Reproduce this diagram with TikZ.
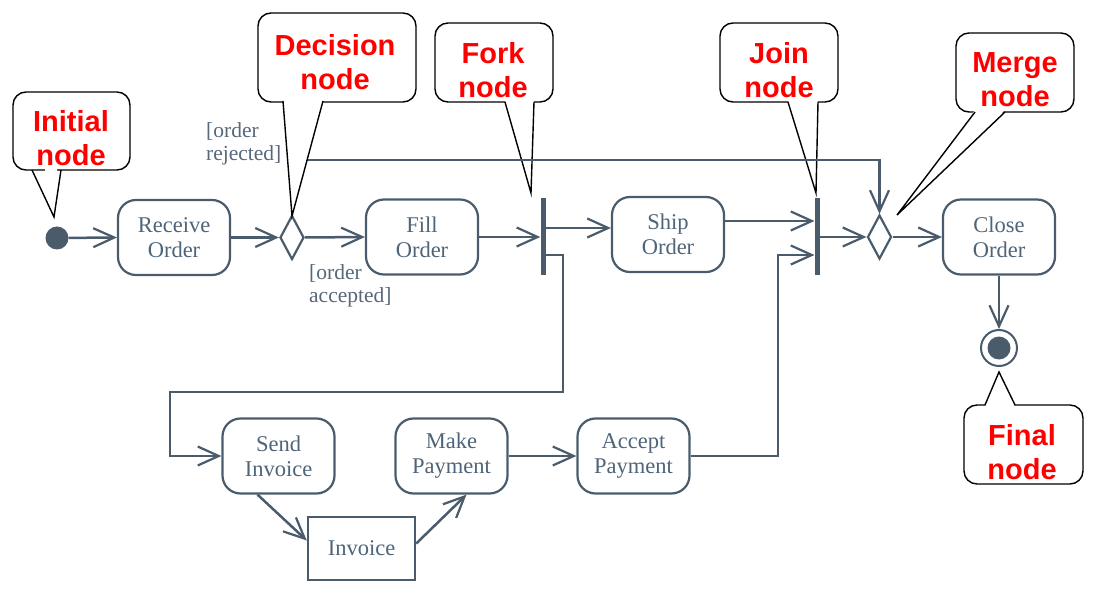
\documentclass[tikz,border=0pt]{standalone}
\usepackage{fontspec}
\setmainfont{Liberation Serif}
\newfontfamily\calfont{Liberation Sans}
\usetikzlibrary{arrows.meta,shapes.geometric,calc}
\definecolor{ln}{HTML}{4A5C6C}
\definecolor{tx}{HTML}{4E6478}
\definecolor{gd}{HTML}{56687A}
\definecolor{callred}{HTML}{FF0000}
\begin{document}
\begin{tikzpicture}[x=1pt,y=-1pt,
  act/.style={draw=ln, line width=2.2pt, rounded corners=18pt, minimum width=112pt, minimum height=75pt,
    align=center, text=tx, font=\fontsize{22.5}{25}\selectfont, inner sep=0pt},
  objbox/.style={draw=ln, line width=2.5pt, minimum width=107pt, minimum height=63pt,
    text=tx, font=\fontsize{22.5}{25}\selectfont, inner sep=0pt},
  flow/.style={draw=ln, line width=2.5pt, -{Straight Barb[length=21pt,width=19pt,line width=2.2pt]}},
  dia/.style={diamond, draw=ln, line width=2.2pt, minimum width=24pt, minimum height=44pt, inner sep=0pt},
  bar/.style={fill=ln, minimum width=5pt, minimum height=77pt, inner sep=0pt},
  guard/.style={text=gd, font=\fontsize{21.5}{23.5}\selectfont, align=left, inner sep=0pt},
  callbox/.style={draw=black, line width=1.4pt, fill=white, rounded corners=13pt, inner sep=0pt},
  calltext/.style={text=callred, font=\calfont\bfseries\fontsize{29}{34}\selectfont, align=center, inner sep=0pt},
  callline/.style={draw=black, line width=1.4pt},
]
\useasboundingbox (0,0) rectangle (1093,596);

% ---------- callouts drawn below the connectors ----------
% Initial node
\node[callbox, minimum width=117pt, minimum height=78pt] (ci) at (71.5,131) {};
\fill[white] (32,99.5) -- (54,217) -- (61,99.5) -- cycle;
\draw[callline] (32,170) -- (54,217) -- (61,170);
\node[calltext] (cit) at (71,138) {Initial\\node};
% Fork node
\node[callbox, minimum width=118pt, minimum height=79pt] (cf) at (494,62.5) {};
\fill[white] (505,100) -- (531,193) -- (534,100) -- cycle;
\draw[callline] (505,102) -- (531,193) -- (534,102);
\node[calltext] (cft) at (493,70) {Fork\\node};
% Join node
\node[callbox, minimum width=118pt, minimum height=79pt] (cj) at (779,62.5) {};
\fill[white] (788,100) -- (816,193) -- (818,100) -- cycle;
\draw[callline] (788,102) -- (816,193) -- (818,102);
\node[calltext] (cjt) at (779,70) {Join\\node};
% Merge node
\node[callbox, minimum width=118pt, minimum height=79pt] (cm) at (1015,72.5) {};
\fill[white] (975,110) -- (897,215) -- (1005,110) -- cycle;
\draw[callline] (975,112) -- (897,215) -- (1005,112);
\node[calltext] (cmt) at (1015,80) {Merge\\node};
% Final node
\node[callbox, minimum width=119pt, minimum height=79pt] (cfn) at (1023.5,444.5) {};
\fill[white] (985,407) -- (999,372) -- (1015,407) -- cycle;
\draw[callline] (985,405) -- (999,372) -- (1015,405);
\node[calltext] (cfnt) at (1022,452) {Final\\node};

% ---------- activity nodes ----------
\fill[ln] (57,238) circle (11.5);
\node[circle, minimum size=23pt, inner sep=0pt] (init) at (57,238) {};
\node[act] (recv) at (174,237.5) {Receive\\Order};
\node[dia] (dec) at (292,237.5) {};
\node[act] (fill) at (422,237) {Fill\\Order};
\node[bar] (fork) at (543,236.5) {};
\node[act] (ship) at (668,234.5) {Ship\\Order};
\node[bar] (join) at (817,236.5) {};
\node[dia] (mrg) at (879.5,237) {};
\node[act] (close) at (999,237) {Close\\Order};
\node[circle, draw=ln, line width=2pt, minimum size=36pt, inner sep=0pt] (fin) at (999,348) {};
\fill[ln] (fin.center) circle (11.5);

\node[act] (send) at (278.5,456) {Send\\Invoice};
\node[act] (make) at (451.5,456) {Make\\Payment};
\node[act] (acc) at (633.5,456) {Accept\\Payment};
\node[objbox] (inv) at (361.5,548.5) {Invoice};

% guards
\node[guard, anchor=north west] (g1) at (206,122) {[order\\rejected]};
\node[guard, anchor=north west] (g2) at (309,264) {[order\\accepted]};

% ---------- connectors ----------
\coordinate (rj) at (0,160);
\coordinate (f1) at (545.5,228);
\coordinate (f2) at (545.5,255);
\coordinate (b1) at (563,392);
\coordinate (b2) at (170,456);
\coordinate (j1) at (814.5,221);
\coordinate (j2) at (814.5,255);

\draw[flow] (init) -- (recv.west);
\draw[flow] (recv.east) -- (dec.west);
\draw[flow] (dec.east) -- (fill.west);
\draw[flow] (dec.north) |- (rj -| mrg.north) -- (mrg.north);
\draw[flow] (fill.east) -- (fork.west |- fill.east);
\draw[flow] (f1) -- (f1 -| ship.west);
\draw[flow] (f2) -| (b1) -| (b2) -- (send.west);
\draw[flow] (ship.east |- j1) -- (j1);
\draw[flow] (acc.east) -| (j2 -| 778,0) -- (j2);
\draw[flow] (join.east |- mrg.west) -- (mrg.west);
\draw[flow] (mrg.east) -- (close.west);
\draw[flow] (close.south) -- (fin.north);
\draw[flow] ($(send.south)+(-21,0)$) -- ($(inv.west)+(0,-8)$);
\draw[flow] ($(inv.east)+(0,-5)$) -- ($(make.south)+(15,0)$);
\draw[flow] (make.east) -- (acc.west);

% ---------- decision callout on top ----------
\node[callbox, minimum width=158pt, minimum height=89pt] (cd) at (337,57.5) {};
\fill[white] (283,99.5) -- (292,216) -- (323,99.5) -- cycle;
\draw[callline] (283,101) -- (292,216) -- (323,101);
\node[calltext] (cdt) at (335,62) {Decision\\node};
\end{tikzpicture}
\end{document}
